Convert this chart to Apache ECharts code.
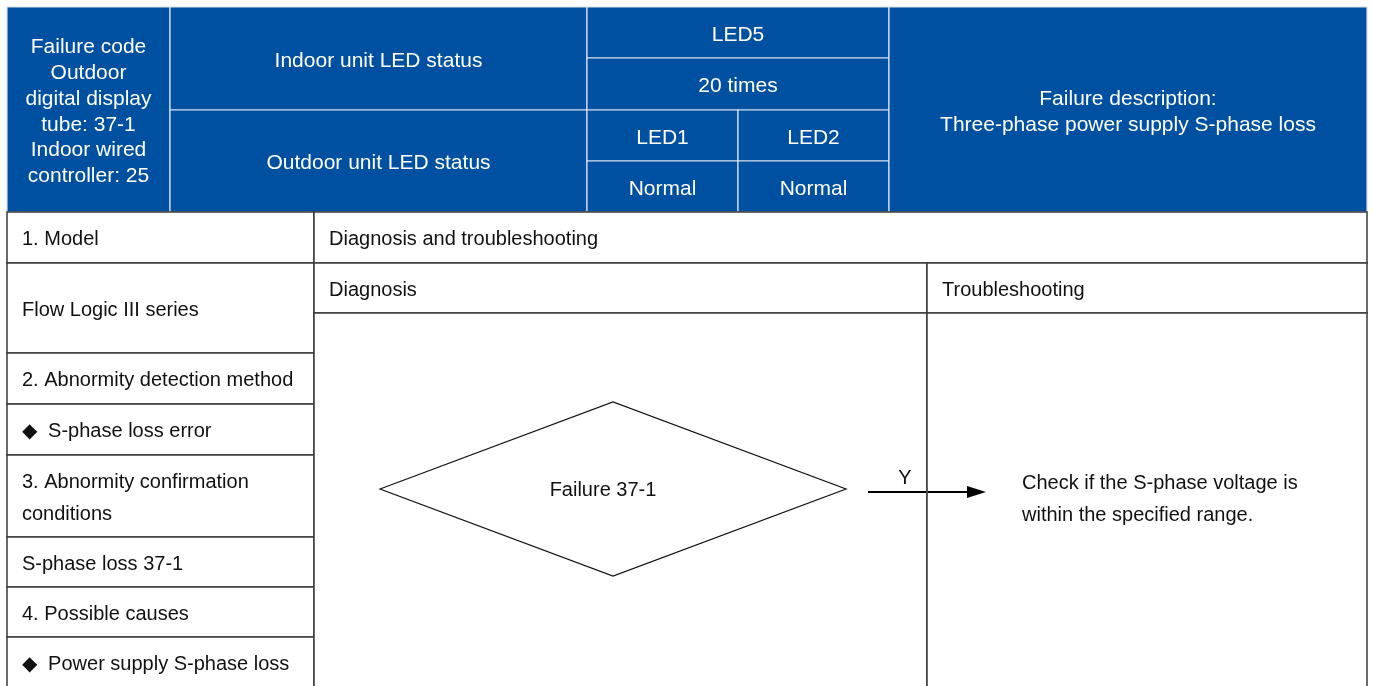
<!DOCTYPE html>
<html>
<head>
<meta charset="utf-8">
<script src="https://cdn.jsdelivr.net/npm/echarts@6/dist/echarts.min.js"></script>
<style>html,body{margin:0;padding:0;background:#fff}#c{width:1373px;height:686px}</style>
</head>
<body>
<div id="c"></div>
<script>
// ---------- content (texts) ----------
const failureCodeLines = ['Failure code', 'Outdoor', 'digital display', 'tube: 37-1', 'Indoor wired', 'controller: 25'];
const ledStatusLabels = ['Indoor unit LED status', 'Outdoor unit LED status'];
const indoorLed = ['LED5', '20 times'];
const outdoorLedNames = ['LED1', 'LED2'];
const outdoorLedStates = ['Normal', 'Normal'];
const failureDescription = ['Failure description:', 'Three-phase power supply S-phase loss'];
const leftRows = ['1. Model', 'Flow Logic III series', '2. Abnormity detection method', '◆  S-phase loss error',
  '3. Abnormity confirmation\nconditions', 'S-phase loss 37-1', '4. Possible causes', '◆  Power supply S-phase loss'];
const sectionTitles = ['Diagnosis and troubleshooting', 'Diagnosis', 'Troubleshooting'];
const decisionText = 'Failure 37-1';
const branchLabel = 'Y';
const actionText = 'Check if the S-phase voltage is\nwithin the specified range.';

// ---------- layout (page units) ----------
const W = 1373, H = 686;
const hdrCols = [7, 170, 587, 738, 889, 1367];
const hdrRows = [7, 58, 110, 161, 212];
const leftColX = [7, 314];
const leftRowY = [212, 263, 353, 404, 455, 537, 587, 637, 688];
const rightRowY = [212, 263, 313, 700];
const rightSplitX = 927;
const BLUE = '#0050a1';
const FONT = '"Liberation Sans", Arial, Helvetica, sans-serif';

// cells: [x0, y0, x1, y1, kind, text, align]
const cells = [];
cells.push([hdrCols[0], hdrRows[0], hdrCols[1], hdrRows[4], 'hdr', failureCodeLines.join('\n'), 'center']);
cells.push([hdrCols[1], hdrRows[0], hdrCols[2], hdrRows[2], 'hdr', ledStatusLabels[0], 'center']);
cells.push([hdrCols[1], hdrRows[2], hdrCols[2], hdrRows[4], 'hdr', ledStatusLabels[1], 'center']);
cells.push([hdrCols[2], hdrRows[0], hdrCols[4], hdrRows[1], 'hdr', indoorLed[0], 'center']);
cells.push([hdrCols[2], hdrRows[1], hdrCols[4], hdrRows[2], 'hdr', indoorLed[1], 'center']);
for (let i = 0; i < 2; i++) {
  cells.push([hdrCols[2 + i], hdrRows[2], hdrCols[3 + i], hdrRows[3], 'hdr', outdoorLedNames[i], 'center']);
  cells.push([hdrCols[2 + i], hdrRows[3], hdrCols[3 + i], hdrRows[4], 'hdr', outdoorLedStates[i], 'center']);
}
cells.push([hdrCols[4], hdrRows[0], hdrCols[5], hdrRows[4], 'hdr', failureDescription.join('\n'), 'center']);
leftRows.forEach((t, i) => cells.push([leftColX[0], leftRowY[i], leftColX[1], leftRowY[i + 1], 'body', t, 'left']));
cells.push([leftColX[1], rightRowY[0], hdrCols[5], rightRowY[1], 'body', sectionTitles[0], 'left']);
cells.push([leftColX[1], rightRowY[1], rightSplitX, rightRowY[2], 'body', sectionTitles[1], 'left']);
cells.push([rightSplitX, rightRowY[1], hdrCols[5], rightRowY[2], 'body', sectionTitles[2], 'left']);
cells.push([leftColX[1], rightRowY[2], rightSplitX, rightRowY[3], 'body', '', 'left']);
cells.push([rightSplitX, rightRowY[2], hdrCols[5], rightRowY[3], 'body', '', 'left']);

// flowchart layout
const diamond = {cx: 613, cy: 489, hw: 233, hh: 87};
const arrow = {x0: 868, x1: 986, y: 492};
const actionPos = {x: 1022, y: 499};

function renderCell(params, api) {
  const d = cells[params.dataIndex];
  const p0 = api.coord([d[0], d[1]]);
  const p1 = api.coord([d[2], d[3]]);
  const hdr = d[4] === 'hdr';
  const children = [{
    type: 'rect',
    shape: {x: p0[0], y: p0[1], width: p1[0] - p0[0], height: p1[1] - p0[1]},
    style: {fill: hdr ? BLUE : '#ffffff', stroke: hdr ? '#d9e2ee' : '#3a3a3a', lineWidth: hdr ? 1.2 : 1.5}
  }];
  if (d[5]) {
    children.push({
      type: 'text',
      style: {
        text: d[5],
        x: d[6] === 'center' ? (p0[0] + p1[0]) / 2 : p0[0] + 15,
        y: (p0[1] + p1[1]) / 2 + (hdr ? 2.5 : 2),
        align: d[6],
        verticalAlign: 'middle',
        fill: hdr ? '#ffffff' : '#111111',
        fontFamily: FONT,
        fontSize: hdr ? 21 : 20,
        lineHeight: hdr ? 25.8 : 32
      }
    });
  }
  return {type: 'group', children};
}

function renderFlow(params, api) {
  const c = api.coord([diamond.cx, diamond.cy]);
  const l = api.coord([diamond.cx - diamond.hw, diamond.cy]);
  const r = api.coord([diamond.cx + diamond.hw, diamond.cy]);
  const t = api.coord([diamond.cx, diamond.cy - diamond.hh]);
  const b = api.coord([diamond.cx, diamond.cy + diamond.hh]);
  const a0 = api.coord([arrow.x0, arrow.y]);
  const a1 = api.coord([arrow.x1, arrow.y]);
  const ap = api.coord([actionPos.x, actionPos.y]);
  const sx = api.coord([rightSplitX, 0])[0];
  return {
    type: 'group',
    children: [
      {type: 'polygon', shape: {points: [l, t, r, b]}, style: {fill: '#fff', stroke: '#111', lineWidth: 1.2}},
      {type: 'text', style: {text: decisionText, x: c[0] - 10, y: c[1] + 1, align: 'center', verticalAlign: 'middle', fill: '#111', fontFamily: FONT, fontSize: 20}},
      {type: 'line', shape: {x1: a0[0], y1: a0[1], x2: a1[0] - 14, y2: a1[1]}, style: {stroke: '#000', lineWidth: 2}},
      {type: 'polygon', shape: {points: [[a1[0] - 19, a1[1] - 6], [a1[0], a1[1]], [a1[0] - 19, a1[1] + 6]]}, style: {fill: '#000'}},
      {type: 'line', shape: {x1: sx, y1: a0[1] - 4, x2: sx, y2: a0[1] + 4}, style: {stroke: '#555', lineWidth: 1.5}},
      {type: 'text', style: {text: branchLabel, x: a0[0] + 37, y: a0[1] - 14, align: 'center', verticalAlign: 'middle', fill: '#111', fontFamily: FONT, fontSize: 20}},
      {type: 'text', style: {text: actionText, x: ap[0], y: ap[1], align: 'left', verticalAlign: 'middle', fill: '#111', fontFamily: FONT, fontSize: 20, lineHeight: 32}}
    ]
  };
}

const chart = echarts.init(document.getElementById('c'), null, {renderer: 'canvas'});
chart.setOption({
  animation: false,
  grid: {left: 0, right: 0, top: 0, bottom: 0},
  xAxis: {type: 'value', min: 0, max: W, show: false},
  yAxis: {type: 'value', min: 0, max: H, inverse: true, show: false},
  series: [
    {type: 'custom', renderItem: renderCell, data: cells.map(c => [c[0], c[1], c[2], c[3]]), clip: true, silent: true},
    {type: 'custom', renderItem: renderFlow, data: [[diamond.cx, diamond.cy]], clip: true, silent: true}
  ]
});
</script>
</body>
</html>
